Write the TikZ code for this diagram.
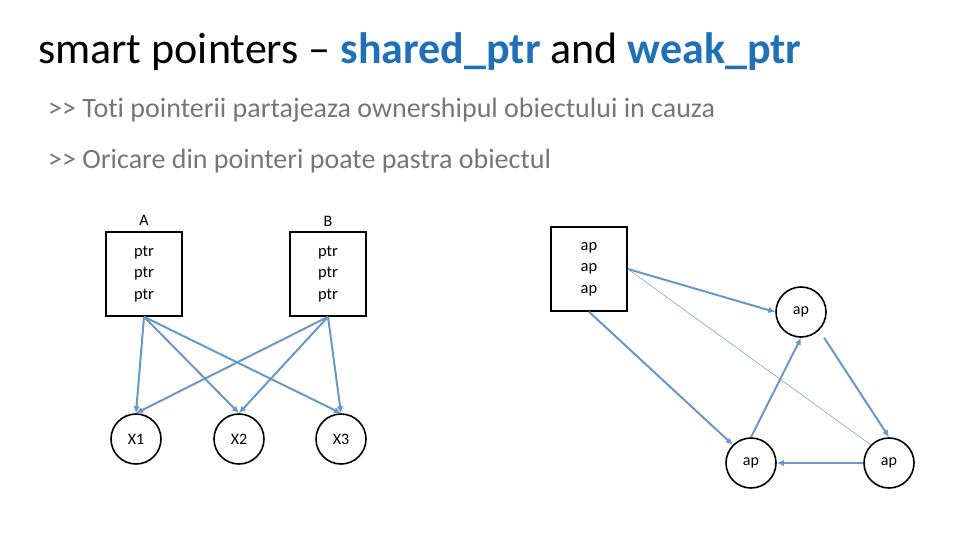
\documentclass[tikz,border=0pt]{standalone}
\usepackage{fontspec}
\setmainfont{Carlito}[Ligatures=NoCommon]
\usetikzlibrary{positioning,arrows.meta}
\definecolor{titleblue}{RGB}{31,112,182}
\definecolor{linkblue}{RGB}{105,152,200}
\definecolor{bulletgray}{RGB}{118,118,118}
\tikzstyle{every node}=[inner sep=0pt]
\tikzstyle{objbox}=[draw,line width=1.6pt,minimum width=76pt,minimum height=84pt,align=center,font=\fontsize{16.5}{21.5}\selectfont]
\tikzstyle{target}=[draw,circle,line width=1.6pt,minimum size=50pt,font=\fontsize{16}{18}\selectfont]
\tikzstyle{boxlabel}=[font=\fontsize{16}{18}\selectfont]
\tikzstyle{link}=[draw=linkblue,line width=2pt,-{Latex[length=7pt,width=6.5pt]}]
\tikzstyle{rule}=[anchor=base west,text=bulletgray,font=\fontsize{28}{32}\selectfont]

\begin{document}
\begin{tikzpicture}[x=1pt,y=-1pt]
  \useasboundingbox (0,0) rectangle (960,540);
  \node [anchor=base west,font=\fontsize{44}{50}\selectfont] (title) at (38,64)
    {smart pointers -- \textcolor{titleblue}{\textbf{shared\_ptr}} and \textcolor{titleblue}{\textbf{weak\_ptr}}};
  \node [rule] (rule1) at (48,118) {>{}> Toti pointerii partajeaza ownershipul obiectului in cauza};
  \node [rule] (rule2) at (48,169) {>{}> Oricare din pointeri poate pastra obiectul};
  % shared_ptr owners
  \node [objbox] (A) at (144,274) {ptr\\ptr\\ptr};
  \node [objbox] (B) at (328,274) {ptr\\ptr\\ptr};
  \node [boxlabel,above=6pt of A] (Alabel) {A};
  \node [boxlabel,above=5pt of B] (Blabel) {B};
  \node [target] (X1) at (136,439) {X1};
  \node [target] (X2) at (239,439) {X2};
  \node [target] (X3) at (341,439) {X3};
  \foreach \src in {A,B}
    \foreach \dst in {X1,X2,X3}
      \draw [link] (\src.south) -- (\dst.north);
  % weak_ptr cycle
  \node [objbox] (P) at (589,269) {ap\\ap\\ap};
  \node [target] (R1) at (801,312) {ap};
  \node [target] (R2) at (751,463) {ap};
  \node [target] (R3) at (889,463) {ap};
  \draw [link] (P.east) -- (R1.west);
  \draw [draw=linkblue,line width=0.5pt] (P.east) -- (R3.north west);
  \draw [link] (P.south) -- (R2.north west);
  \draw [link] (R2.north) -- (R1.south);
  \draw [link,shorten <=9pt] (R1.south east) -- (R3.north);
  \draw [link] (R3.west) -- (R2.east);
\end{tikzpicture}
\end{document}
